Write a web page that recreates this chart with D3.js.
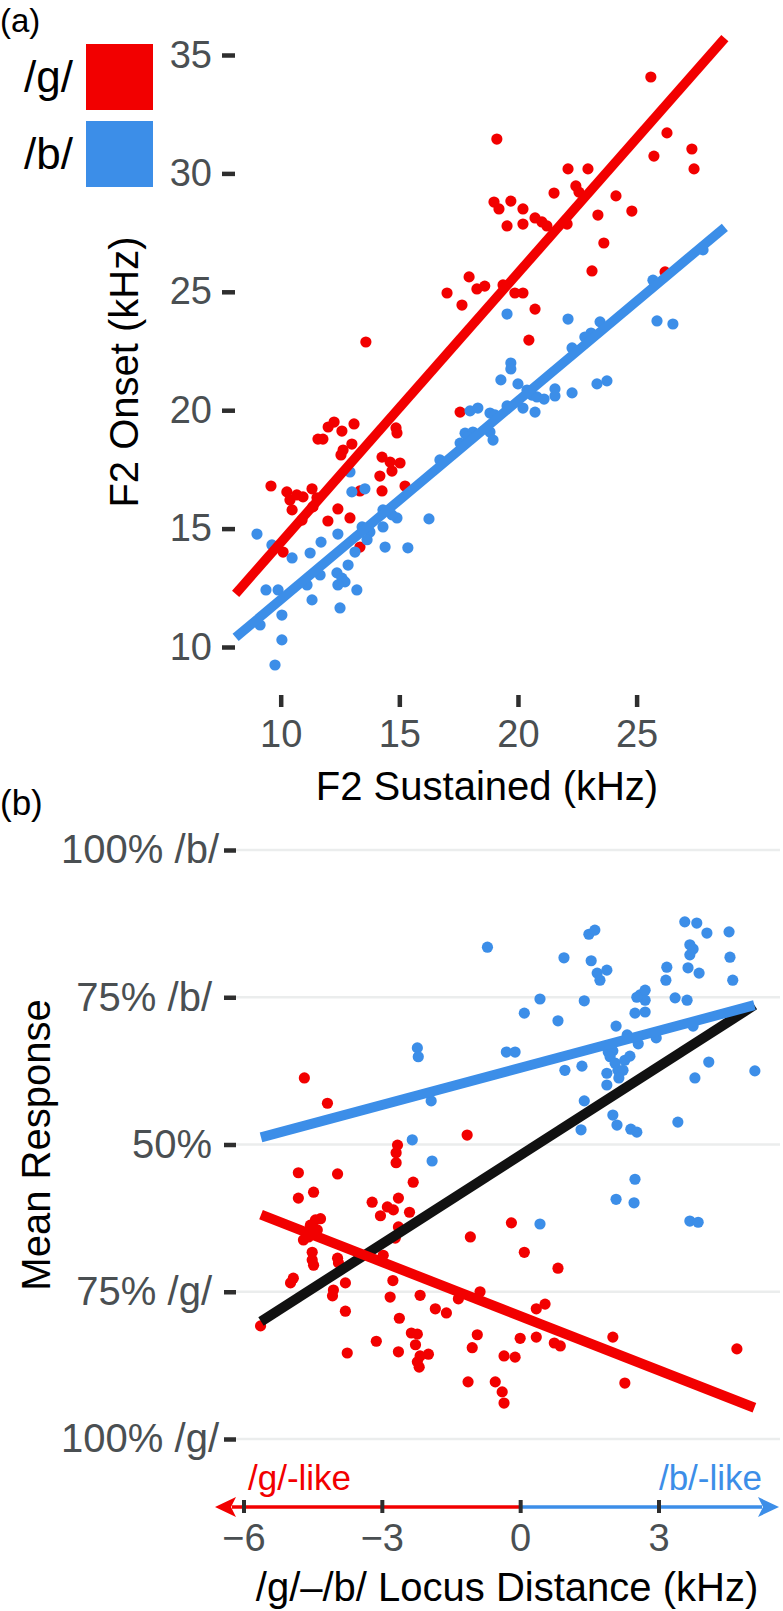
<!DOCTYPE html>
<html><head><meta charset="utf-8">
<script src="https://cdn.jsdelivr.net/npm/d3@7"></script>
<style>
body{margin:0;background:#fff;}
svg{display:block;font-family:"Liberation Sans",Arial,Helvetica,sans-serif;}
</style>
</head><body>
<svg id="chart" width="783" height="1611"></svg>
<script>
// ---------------- DATA ----------------
const seriesNames = ["/g/", "/b/"];
const seriesColors = ["#F20000", "#3C8EE8"];

// Panel (a): F2 sustained vs F2 onset (kHz)
const aTicksX = [10, 15, 20, 25];
const aTicksY = [10, 15, 20, 25, 30, 35];
const aTitleX = "F2 Sustained (kHz)";
const aTitleY = "F2 Onset (kHz)";
const aGPoints = [
[25.60,34.07],[19.11,31.45],[26.28,31.71],[27.33,31.03],[25.73,30.73],[27.42,30.19],[22.11,30.19],[22.95,30.19],
[22.44,29.47],[22.57,29.21],[21.52,29.17],[24.13,29.05],[18.99,28.79],[19.70,28.83],[19.20,28.50],[20.21,28.50],
[24.80,28.41],[20.72,28.12],[21.01,27.95],[21.22,27.78],[23.37,28.24],[19.54,27.78],[20.21,27.86],[22.07,27.86],
[23.62,27.06],[23.12,25.88],[17.94,25.63],[18.27,25.12],[18.60,25.24],[17.01,24.95],[19.87,24.95],[20.21,24.95],
[19.37,25.29],[26.20,25.84],[17.64,24.44],[20.72,24.27],[20.46,22.96],[17.56,19.92],[14.86,19.25],[14.90,19.04],
[14.27,18.02],[14.61,17.81],[15.03,17.77],[14.69,17.43],[14.18,17.22],[15.24,16.80],[14.27,16.59],[13.59,22.88],
[13.09,19.42],[12.25,19.50],[12.00,19.29],[12.58,19.12],[11.57,18.78],[11.78,18.78],[13.00,18.57],[12.54,18.11],
[13.34,16.59],[9.59,16.80],[10.26,16.55],[10.39,16.21],[10.68,16.42],[10.94,16.34],[11.32,16.68],[11.53,16.30],
[11.36,15.92],[10.48,15.79],[12.41,15.83],[11.99,15.32],[12.92,15.45],[10.90,15.36],[10.10,14.01],[13.34,14.22],
[12.63,18.32]
];
const aBPoints = [
[9.00,14.77],[9.63,14.31],[10.48,13.76],[11.24,13.97],[11.70,14.43],[12.41,14.77],[12.92,17.39],[13.00,16.55],
[13.55,16.68],[13.13,14.01],[12.84,13.46],[12.37,13.13],[12.58,12.91],[12.71,12.75],[12.41,12.62],[11.66,13.04],
[11.11,12.62],[11.32,11.99],[13.21,12.41],[12.50,11.65],[9.38,12.41],[9.89,12.41],[10.05,11.35],[9.13,10.93],
[10.05,10.30],[9.76,9.24],[13.43,15.07],[13.76,14.86],[13.64,14.53],[14.31,15.79],[14.31,15.07],[14.40,14.22],
[14.90,15.45],[19.54,24.06],[22.11,23.85],[23.46,23.73],[23.08,23.26],[22.82,23.09],[22.28,22.63],[25.86,23.77],
[26.53,23.64],[25.69,25.49],[19.70,21.99],[19.70,21.74],[19.28,21.28],[20.00,21.11],[20.38,20.85],[20.59,20.64],
[20.80,20.56],[21.10,20.47],[21.56,20.90],[21.56,20.60],[22.28,20.73],[23.33,21.11],[23.75,21.24],[17.98,19.97],
[18.31,20.09],[18.82,19.88],[19.03,19.80],[19.54,20.18],[20.21,20.09],[20.72,19.92],[17.77,19.03],[18.10,19.08],
[17.89,18.87],[18.82,19.08],[18.95,18.74],[17.56,18.61],[16.71,17.90],[16.25,15.41],[15.36,14.19],[14.69,15.58],
[27.80,26.77]
];
// linear fits: [intercept, slope], over x range
const aGFit = [3.03, 1.138];
const aBFit = [3.60, 0.840];
const aFitRange = [8.1, 28.72];

// Panel (b): locus distance vs mean response (proportion /b/)
const bTicksX = [-6, -3, 0, 3];
const bTickLabelsX = ["\u22126", "\u22123", "0", "3"];
const bTicksY = [0, 0.25, 0.5, 0.75, 1];
const bTickLabelsY = ["100% /g/", "75% /g/", "50%", "75% /b/", "100% /b/"];
const bTitleX = "/g/\u2013/b/ Locus Distance (kHz)";
const bTitleY = "Mean Response";
const bSideLabels = ["/g/-like", "/b/-like"];
const bGPoints = [
[-4.68,0.613],[-4.18,0.570],[-4.81,0.452],[-3.96,0.450],[-4.48,0.419],[-4.81,0.409],[-3.21,0.402],[-2.88,0.394],
[-2.75,0.389],[-3.03,0.379],[-2.66,0.499],[-2.69,0.486],[-2.69,0.469],[-2.64,0.409],[-4.44,0.372],[-4.33,0.374],
[-4.55,0.363],[-4.48,0.351],[-4.40,0.355],[-4.59,0.343],[-4.70,0.338],[-4.51,0.317],[-4.51,0.304],[-4.48,0.295],
[-3.96,0.307],[-3.94,0.299],[-2.97,0.312],[-4.92,0.273],[-4.98,0.265],[-3.79,0.265],[-4.05,0.253],[-4.07,0.243],
[-2.76,0.269],[-1.15,0.516],[-2.32,0.436],[-2.40,0.385],[-2.64,0.360],[-2.71,0.341],[-0.19,0.367],[-1.08,0.343],
[0.09,0.317],[0.82,0.290],[-2.17,0.244],[-0.87,0.250],[-2.82,0.241],[-5.63,0.192],[-3.79,0.217],[-3.75,0.146],
[-3.12,0.166],[-2.62,0.205],[-2.36,0.180],[-2.23,0.178],[-2.27,0.160],[-2.64,0.148],[-2.17,0.141],[-1.99,0.144],
[-2.23,0.131],[-2.19,0.122],[-1.84,0.221],[-1.60,0.214],[-1.34,0.238],[-0.93,0.177],[-1.04,0.155],[-1.13,0.097],
[-0.54,0.097],[-0.39,0.080],[-0.35,0.061],[-0.35,0.141],[-0.11,0.139],[0.00,0.171],[0.35,0.221],[0.54,0.229],
[0.35,0.173],[0.74,0.163],[0.87,0.158],[2.01,0.173],[2.27,0.095],[4.70,0.153]
];
const bBPoints = [
[-0.71,0.835],[1.49,0.857],[1.62,0.864],[3.57,0.878],[3.83,0.876],[4.05,0.859],[4.53,0.861],[3.68,0.839],
[3.75,0.832],[3.68,0.822],[0.95,0.817],[1.54,0.812],[4.55,0.818],[1.67,0.791],[1.73,0.779],[1.88,0.796],
[3.18,0.801],[3.16,0.779],[3.64,0.800],[3.88,0.791],[4.61,0.779],[0.43,0.747],[1.39,0.744],[0.09,0.723],
[0.82,0.710],[2.60,0.754],[2.71,0.762],[2.71,0.745],[2.53,0.750],[2.49,0.723],[2.71,0.725],[3.36,0.749],
[3.62,0.745],[2.08,0.701],[2.32,0.686],[2.56,0.671],[2.95,0.681],[3.75,0.701],[-2.23,0.664],[-2.21,0.649],
[-0.30,0.657],[-0.11,0.657],[1.91,0.657],[2.01,0.659],[1.95,0.649],[2.06,0.638],[2.27,0.643],[2.38,0.650],
[1.88,0.621],[2.12,0.626],[2.23,0.626],[0.97,0.626],[1.34,0.633],[1.88,0.601],[2.14,0.613],[4.09,0.640],
[3.79,0.613],[5.09,0.625],[-1.93,0.574],[1.39,0.574],[2.01,0.550],[2.10,0.533],[2.40,0.526],[2.53,0.521],
[1.32,0.525],[3.42,0.538],[-2.34,0.508],[-1.91,0.472],[2.49,0.441],[2.08,0.407],[2.47,0.401],[3.68,0.370],
[3.86,0.368],[0.43,0.365]
];
const bGFit = [0.2087, -0.03064];
const bBFit = [0.630, 0.02097];
const bAllFit = [0.4816, 0.05019];
const bFitRange = [-5.62, 5.08];

// ---------------- DRAW ----------------
const svg = d3.select("#chart");
const tickColor = "#2e2e2e", labelColor = "#4a4f52";
const R = 5.6;

function styleAxis(g, fs, tw){
  g.attr("font-size", fs).attr("font-family", null);
  g.select(".domain").remove();
  g.selectAll(".tick line").attr("stroke", tickColor).attr("stroke-width", tw);
  g.selectAll(".tick text").attr("fill", labelColor);
}

// ----- Panel (a)
const xA = d3.scaleLinear().domain([10, 25]).range([280.7, 636.6]);
const yA = d3.scaleLinear().domain([10, 35]).range([647, 55]);

svg.append("text").attr("x", 0).attr("y", 32).attr("font-size", 33).text("(a)");

const gAy = svg.append("g").attr("transform", "translate(235,0)")
  .call(d3.axisLeft(yA).tickValues(aTicksY).tickSize(13).tickPadding(10));
styleAxis(gAy, 38, 4.5);
const gAx = svg.append("g").attr("transform", "translate(0,695)")
  .call(d3.axisBottom(xA).tickValues(aTicksX).tickSize(12).tickPadding(13));
styleAxis(gAx, 38, 4.5);

svg.append("text").attr("x", 487).attr("y", 800).attr("text-anchor", "middle")
  .attr("font-size", 40).text(aTitleX);
svg.append("text").attr("transform", "translate(138,372) rotate(-90)")
  .attr("text-anchor", "middle").attr("font-size", 40).text(aTitleY);

// legend
const legY = [44, 121];
seriesNames.forEach((n, i) => {
  svg.append("rect").attr("x", 86).attr("y", legY[i]).attr("width", 67).attr("height", 66)
    .attr("fill", seriesColors[i]);
  svg.append("text").attr("x", 73).attr("y", legY[i] + 33).attr("dy", "0.35em")
    .attr("text-anchor", "end").attr("font-size", 44).text(n);
});

const aPts = [aGPoints, aBPoints];
aPts.forEach((pts, i) => {
  svg.append("g").selectAll("circle").data(pts).join("circle")
    .attr("cx", d => xA(d[0])).attr("cy", d => yA(d[1])).attr("r", R)
    .attr("fill", seriesColors[i]);
});
[aGFit, aBFit].forEach((f, i) => {
  const line = aFitRange.map(x => [x, f[0] + f[1] * x]);
  svg.append("path").attr("d", d3.line().x(d => xA(d[0])).y(d => yA(d[1]))(line))
    .attr("stroke", seriesColors[i]).attr("stroke-width", 9.5).attr("fill", "none");
});

// ----- Panel (b)
const xB = d3.scaleLinear().domain([-6, 3]).range([243.5, 658.5]);
const yB = d3.scaleLinear().domain([0, 1]).range([1439, 850]);

svg.append("text").attr("x", 0).attr("y", 815).attr("font-size", 35).text("(b)");

svg.append("g").selectAll("line").data(bTicksY).join("line")
  .attr("x1", 236).attr("x2", 780).attr("y1", d => yB(d)).attr("y2", d => yB(d))
  .attr("stroke", "#ebeded").attr("stroke-width", 2.5);

const gBy = svg.append("g").attr("transform", "translate(236,0)")
  .call(d3.axisLeft(yB).tickValues(bTicksY).tickFormat((d, i) => bTickLabelsY[i])
    .tickSize(12).tickPadding(12));
styleAxis(gBy, 40, 4.5);
// the 100% labels sit closer to their tick marks in the reference
gBy.selectAll(".tick text").filter(d => d === 0 || d === 1).attr("dx", 7);

svg.append("text").attr("transform", "translate(50,1145) rotate(-90)")
  .attr("text-anchor", "middle").attr("font-size", 40).text(bTitleY);

const bPts = [bGPoints, bBPoints];
bPts.forEach((pts, i) => {
  svg.append("g").selectAll("circle").data(pts).join("circle")
    .attr("cx", d => xB(d[0])).attr("cy", d => yB(d[1])).attr("r", R)
    .attr("fill", seriesColors[i]);
});
const bLines = [[bAllFit, "#111111"], [bGFit, seriesColors[0]], [bBFit, seriesColors[1]]];
bLines.forEach(([f, c]) => {
  const line = bFitRange.map(x => [x, f[0] + f[1] * x]);
  svg.append("path").attr("d", d3.line().x(d => xB(d[0])).y(d => yB(d[1]))(line))
    .attr("stroke", c).attr("stroke-width", 10).attr("fill", "none");
});

// arrow axis
const axY = 1507, leftTip = 215, rightTip = 779, ahL = 21, ahH = 10;
const x0 = xB(0);
svg.append("line").attr("x1", x0).attr("x2", leftTip + ahL - 4).attr("y1", axY).attr("y2", axY)
  .attr("stroke", seriesColors[0]).attr("stroke-width", 3.5);
svg.append("line").attr("x1", x0).attr("x2", rightTip - ahL + 4).attr("y1", axY).attr("y2", axY)
  .attr("stroke", seriesColors[1]).attr("stroke-width", 3.5);
svg.append("path")
  .attr("d", `M${leftTip},${axY} L${leftTip + ahL},${axY - ahH} L${leftTip + ahL - 5},${axY} L${leftTip + ahL},${axY + ahH} Z`)
  .attr("fill", seriesColors[0]);
svg.append("path")
  .attr("d", `M${rightTip},${axY} L${rightTip - ahL},${axY - ahH} L${rightTip - ahL + 5},${axY} L${rightTip - ahL},${axY + ahH} Z`)
  .attr("fill", seriesColors[1]);

const gBx = svg.append("g").attr("transform", `translate(0,${axY - 7})`)
  .call(d3.axisBottom(xB).tickValues(bTicksX).tickFormat((d, i) => bTickLabelsX[i])
    .tickSize(13).tickPadding(11));
styleAxis(gBx, 38, 4);

svg.append("text").attr("x", 248).attr("y", 1490).attr("font-size", 35)
  .attr("fill", seriesColors[0]).text(bSideLabels[0]);
svg.append("text").attr("x", 762).attr("y", 1490).attr("font-size", 35).attr("text-anchor", "end")
  .attr("fill", seriesColors[1]).text(bSideLabels[1]);

svg.append("text").attr("x", 507).attr("y", 1601).attr("text-anchor", "middle")
  .attr("font-size", 40).text(bTitleX);
</script>
</body></html>
